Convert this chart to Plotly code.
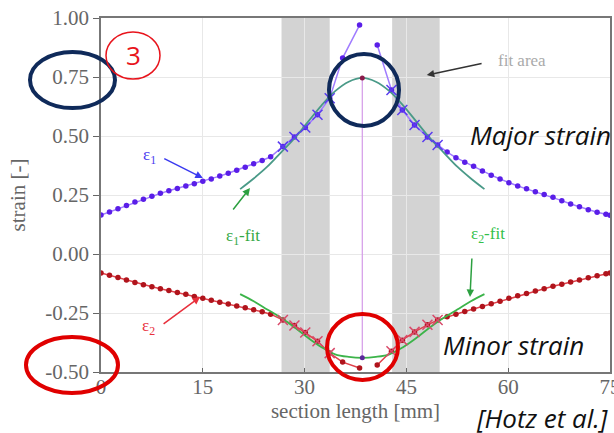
import plotly.graph_objects as go

# ---------------- data ----------------
section_mm = [0, 1.25, 2.5, 3.75, 5, 6.25, 7.5, 8.75, 10, 11.25, 12.5, 13.75, 15, 16.25,
              17.5, 18.75, 20, 21.25, 22.5, 23.75, 25, 26.8, 28.5, 30.1, 31.9, 33.7, 35.6,
              38.1, 39.4, 40.7, 42.8, 44.4, 46.2, 48.1, 49.6, 51.0, 52.3, 53.6, 54.9, 56.2,
              57.5, 58.8, 60.1, 61.4, 62.7, 64.0, 65.3, 66.6, 67.9, 69.2, 70.5, 71.8, 73.1,
              74.4, 75.0]

eps1 = [0.165, 0.178, 0.192, 0.206, 0.220, 0.232, 0.245, 0.257, 0.268, 0.278, 0.288, 0.298,
        0.308, 0.318, 0.330, 0.342, 0.355, 0.368, 0.382, 0.396, 0.412, 0.455, 0.496, 0.536,
        0.590, 0.660, 0.830, 0.970, None, 0.886, 0.695, 0.610, 0.547, 0.496, 0.462, 0.432,
        0.408, 0.389, 0.372, 0.352, 0.334, 0.318, 0.302, 0.288, 0.276, 0.264, 0.252, 0.240,
        0.226, 0.212, 0.200, 0.188, 0.177, 0.168, 0.164]

eps2 = [-0.080, -0.090, -0.100, -0.110, -0.121, -0.130, -0.139, -0.147, -0.155, -0.163,
        -0.171, -0.180, -0.188, -0.196, -0.204, -0.212, -0.220, -0.228, -0.236, -0.245,
        -0.255, -0.280, -0.303, -0.333, -0.370, -0.420, -0.458, -0.483, None, -0.470,
        -0.412, -0.365, -0.330, -0.300, -0.280, -0.266, -0.255, -0.244, -0.233, -0.222,
        -0.211, -0.200, -0.188, -0.177, -0.167, -0.157, -0.147, -0.137, -0.128, -0.119,
        -0.110, -0.101, -0.092, -0.084, -0.080]

fit_x = [20.5, 22.5, 24.5, 26.5, 28.5, 30.5, 32.5, 34.5, 36.5, 38.5, 40.5, 42.5, 44.5,
         46.5, 48.5, 50.5, 52.5, 54.5, 56.5]
eps1_fit = [0.275, 0.32, 0.37, 0.43, 0.49, 0.56, 0.63, 0.69, 0.73, 0.746, 0.73, 0.69, 0.63,
            0.56, 0.49, 0.43, 0.37, 0.32, 0.275]
eps2_fit = [-0.17, -0.20, -0.235, -0.27, -0.31, -0.355, -0.395, -0.425, -0.436, -0.44,
            -0.436, -0.425, -0.395, -0.355, -0.31, -0.27, -0.235, -0.20, -0.17]

fit_areas = [(26.6, 33.7), (42.9, 49.9)]
crack_x = 38.5
crack_eps1 = 0.746
crack_eps2 = -0.44

x_ticks = [0, 15, 30, 45, 60, 75]
y_ticks = [1.00, 0.75, 0.50, 0.25, 0.00, -0.25, -0.50]
y_tick_text = ["1.00", "0.75", "0.50", "0.25", "0.00", "-0.25", "-0.50"]

# -------------- helpers --------------
def in_fit(x):
    return any(a - 0.3 <= x <= b + 0.3 for a, b in fit_areas)

fx1 = [x for x, v in zip(section_mm, eps1) if v is not None and in_fit(x)]
fy1 = [v for x, v in zip(section_mm, eps1) if v is not None and in_fit(x)]
fx2 = [x for x, v in zip(section_mm, eps2) if v is not None and in_fit(x)]
fy2 = [v for x, v in zip(section_mm, eps2) if v is not None and in_fit(x)]

L, R, T, B = 101, 4, 18, 61
W, H = 614, 433
PW, PH = W - L - R, H - T - B
def xp(px): return (px - L) / PW
def yp(py): return (H - B - py) / PH

fig = go.Figure()

fig.add_trace(go.Scatter(x=section_mm, y=eps1, mode="lines+markers",
                         line=dict(color="#a07cff", width=1.5),
                         marker=dict(color="#5a1ee8", size=5.5),
                         connectgaps=False, showlegend=False))
fig.add_trace(go.Scatter(x=section_mm, y=eps2, mode="lines+markers",
                         line=dict(color="#e0404a", width=1.5),
                         marker=dict(color="#b0141c", size=5.5),
                         connectgaps=False, showlegend=False))
fig.add_trace(go.Scatter(x=fit_x, y=eps1_fit, mode="lines",
                         line=dict(color="#4a9a88", width=1.8, shape="spline"),
                         showlegend=False))
fig.add_trace(go.Scatter(x=fit_x, y=eps2_fit, mode="lines",
                         line=dict(color="#3cb44a", width=1.8, shape="spline"),
                         showlegend=False))
fig.add_trace(go.Scatter(x=fx1, y=fy1, mode="markers",
                         marker=dict(symbol="x-thin-open", size=10, color="#5a3cf0",
                                     line=dict(width=1.5, color="#5a3cf0")),
                         showlegend=False))
fig.add_trace(go.Scatter(x=fx2, y=fy2, mode="markers",
                         marker=dict(symbol="x-thin-open", size=10, color="#d94a6a",
                                     line=dict(width=1.5, color="#d94a6a")),
                         showlegend=False))
fig.add_trace(go.Scatter(x=[crack_x, crack_x], y=[crack_eps1, crack_eps2], mode="lines+markers",
                         line=dict(color="#d49ae8", width=1.2),
                         marker=dict(color=["#8a1a4a", "#5a2a9a"], size=5),
                         showlegend=False))

shapes = []
for a, b in fit_areas:
    shapes.append(dict(type="rect", xref="x", yref="paper", x0=a, x1=b, y0=0, y1=1,
                       fillcolor="#d3d3d3", line=dict(width=0), layer="below"))

def ellipse(x0, x1, y0, y1, color, width=4):
    return dict(type="circle", xref="paper", yref="paper",
                x0=xp(x0), x1=xp(x1), y0=yp(y1), y1=yp(y0),
                line=dict(color=color, width=width), layer="above")

shapes += [
    ellipse(30, 115, 52, 108, "#0f2a5a"),
    ellipse(329, 399, 54, 126, "#0f2a5a"),
    ellipse(26, 118, 337, 393, "#e00000"),
    ellipse(327, 398, 314, 380, "#e00000"),
    ellipse(106, 160, 32, 79, "#e8141c", 1.5),
]

serif = "Liberation Serif, Times New Roman, serif"
ann = []
def arrow(tail, tip, color):
    ann.append(dict(x=tip[0], y=tip[1], ax=tail[0], ay=tail[1], xref="x", yref="y",
                    axref="x", ayref="y", text="", showarrow=True, arrowhead=2,
                    arrowsize=1, arrowwidth=1.5, arrowcolor=color))
def label(x, y, text, color, size=17, family=serif):
    ann.append(dict(x=x, y=y, xref="x", yref="y", text=text, showarrow=False,
                    font=dict(family=family, size=size, color=color)))

arrow((9.1, 0.407), (15.0, 0.322), "#3b3bf0")
arrow((19.3, 0.182), (21.95, 0.28), "#2ca040")
arrow((54.66, -0.013), (54.37, -0.182), "#2ca040")
arrow((9.0, -0.301), (14.6, -0.182), "#e8303c")
arrow((56.3, 0.809), (48.0, 0.758), "#333333")

label(7.2, 0.415, "ε<sub>1</sub>", "#4a3cf0")
label(20.9, 0.072, "ε<sub>1</sub>-fit", "#33a844")
label(57.0, 0.08, "ε<sub>2</sub>-fit", "#33c04a")
label(7.0, -0.31, "ε<sub>2</sub>", "#e8303c")
label(62.0, 0.822, "fit area", "#aaaaaa")

italic = "Open Sans, sans-serif"
ann += [
    dict(x=xp(613), y=yp(135), xref="paper", yref="paper", xanchor="right", yanchor="middle",
         text="<i>Major strain</i>", showarrow=False,
         font=dict(family=italic, size=26, color="#111111")),
    dict(x=xp(441), y=yp(345), xref="paper", yref="paper", xanchor="left", yanchor="middle",
         text="<i>Minor strain</i>", showarrow=False,
         font=dict(family=italic, size=26, color="#111111")),
    dict(x=xp(474), y=yp(418), xref="paper", yref="paper", xanchor="left", yanchor="middle",
         text="<i>[Hotz et al.]</i>", showarrow=False,
         font=dict(family=italic, size=26, color="#111111")),
    dict(x=xp(133), y=yp(55), xref="paper", yref="paper", xanchor="center", yanchor="middle",
         text="3", showarrow=False,
         font=dict(family="Open Sans, sans-serif", size=26, color="#e8141c")),
]

tickfont = dict(family=serif, size=21, color="#666666")
fig.update_layout(
    width=W, height=H, margin=dict(l=L, r=R, t=T, b=B, autoexpand=False),
    plot_bgcolor="white", paper_bgcolor="white",
    shapes=shapes, annotations=ann, showlegend=False,
    xaxis=dict(range=[0, 75], tickvals=x_ticks, ticks="inside", ticklen=4,
               tickcolor="#666", showgrid=True, gridcolor="#e8e8e8", zeroline=False,
               showline=True, linecolor="#777", linewidth=1.5, mirror=True,
               tickfont=tickfont, automargin=False, ticklabelstandoff=-5,
               ticklabeloverflow="allow",
               title=dict(text="section length [mm]", standoff=4,
                          font=dict(family=serif, size=21, color="#666666"))),
    yaxis=dict(range=[-0.5, 1.0], tickvals=y_ticks, ticktext=y_tick_text, ticks="outside",
               ticklen=6, tickcolor="#666", showgrid=True, gridcolor="#e8e8e8",
               zeroline=False, showline=True, linecolor="#777", linewidth=1.5, mirror=True,
               tickfont=tickfont, automargin=False,
               title=dict(text="strain [-]", standoff=14,
                          font=dict(family=serif, size=21, color="#666666"))),
)

fig.write_html("out.html", config={"displayModeBar": False},
               post_script="document.body.style.margin='0';document.body.style.overflow='hidden';")
